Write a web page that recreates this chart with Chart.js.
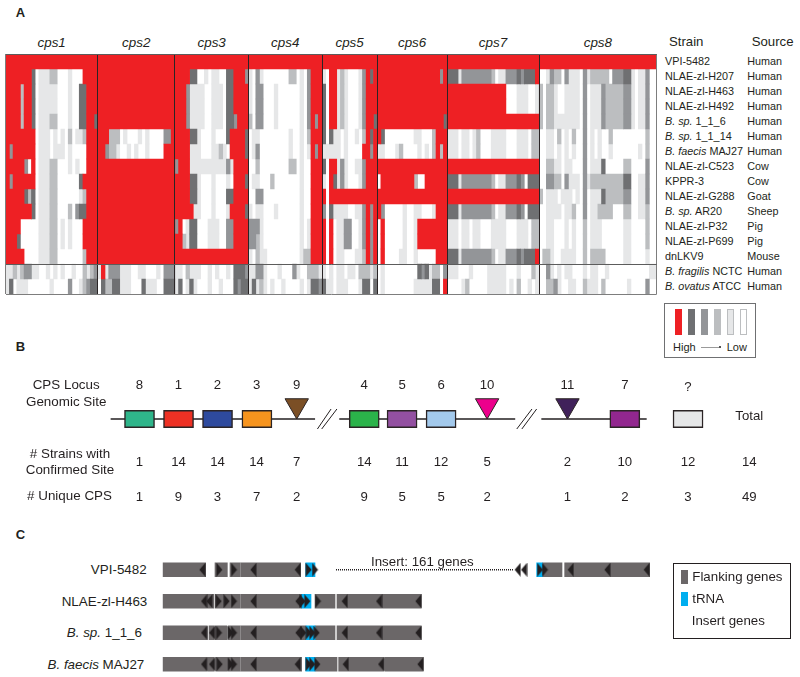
<!DOCTYPE html>
<html>
<head>
<meta charset="utf-8">
<script src="https://cdn.jsdelivr.net/npm/chart.js@4"></script>
<style>
	html, body { margin: 0; padding: 0; background: #fff; }
	#page { position: relative; width: 800px; height: 677px; overflow: hidden; font-family: "Liberation Sans", Arial, sans-serif; color: #231f20; }
	#page canvas { position: absolute; }
	.t { position: absolute; white-space: nowrap; line-height: 1; }
	.box { position: absolute; box-sizing: border-box; }
</style>
</head>
<body>
<div id="page">
	<canvas id="heatChart" width="654" height="243" style="left:4px;top:52px"></canvas>
	<canvas id="siteChart" width="700" height="60" style="left:100px;top:389px"></canvas>
	<canvas id="trackChart" width="502" height="126" style="left:162px;top:554px"></canvas>
</div>
<script>
// panel A
const strains = [ 'VPI-5482', 'NLAE-zl-H207', 'NLAE-zl-H463', 'NLAE-zl-H492', '<i>B. sp.</i> 1_1_6', '<i>B. sp.</i> 1_1_14', '<i>B. faecis</i> MAJ27', 'NLAE-zl-C523', 'KPPR-3', 'NLAE-zl-G288', '<i>B. sp.</i> AR20', 'NLAE-zl-P32', 'NLAE-zl-P699', 'dnLKV9', '<i>B. fragilis</i> NCTC', '<i>B. ovatus</i> ATCC' ];
const sources = [ 'Human', 'Human', 'Human', 'Human', 'Human', 'Human', 'Human', 'Cow', 'Cow', 'Goat', 'Sheep', 'Pig', 'Pig', 'Mouse', 'Human', 'Human' ];
const loci = [ 'cps1', 'cps2', 'cps3', 'cps4', 'cps5', 'cps6', 'cps7', 'cps8' ];

// expression level per gene, 5 = high (red) ... 0 = low (white), one string per strain
const cps1 = [
	'55555 55555 55555 55555 55555',
	'5555555 4 0 111 22 000 1 000 5555',
	'5555 2 55 4 0 111 11 000 1 00 44 555',
	'5555 2 55 4 0 111 11 000 1 00 44 555',
	'5555 2 55 4 0 111 22 000 1 00 44 55 4',
	'55555555 0 111 0 1 0 1 0 2 0 11 2 555',
	'5 3 555555 0 111 0 11 1 0 1 000 0 555',
	'55555 3 0 5 0 111 22 000 1 0 1 00 555',
	'5 3 555555 0 111 22 000000 4 5555',
	'55555 4 2 4 0 111 22 000000 1 2 555',
	'5555555 4 0 111 22 000 2 0 3 44 555',
	'5555 00000 111 22 0 1 0 1 000 5555',
	'555 4 00000 111 22 0 1 0 1 000 5555',
	'55555 0000 111 22 0000000 2 555',
	'11 2 1 2 33 1 1 00 1 0 1 0 1 0 0 1 0 0 2 1 2 3',
	'1 4 0 1 1 1 0 0 0 0 0 0 1 0 0 0 0 3 0 0 1 2 3 4 4'
];
const cps2 = [
	'55555 55555 55555 55555 5',
	'55555 55555 55555 55555 5',
	'55555 55555 55555 55555 5',
	'55555 55555 55555 55555 5',
	'55555 55555 55555 55555 5',
	'555 222 0 1 000 1 0 1 0000 33 5',
	'55 3 22 1 00 1 0 1 00 1 0000 555',
	'55555 55555 55555 55555 5',
	'55555 55555 55555 55555 5',
	'55555 55555 55555 55555 5',
	'55555 55555 55555 55555 5',
	'55555 55555 55555 55555 5',
	'55555 55555 55555 55555 5',
	'55555 55555 55555 55555 5',
	'1 5 1 333 111 00 11 000 1 0 333',
	'0 4 2 2 4 4 1 1 1 0 0 0 4 1 1 1 0 0 4 4 4'
];
const cps3 = [
	'55555 55555 55555 55555',
	'5555 44 00 1 0 1 1 0 0 44 555 3',
	'555 3 111 1 0 0 1 1 1 0 44 5555',
	'555 3 111 1 0 0 1 1 1 0 44 5555',
	'555 3 111 1 0 0 1 1 1 0 44 3 555',
	'5555 44 1 000 1 000 4 5555 4',
	'5555 111 000 11 2 1 0 5555 4',
	'3 555 1111111111 3 1 5555',
	'5555 44 1 000 1 000 1 0 555 4',
	'5555 44 1 000 1 000 44 5555',
	'55555 11 000 1 000 1 5555 4',
	'3 5 0 1 44 000 1 11 00 33 5555',
	'55 2 1 44 000 1 11 00 33 5555',
	'55555 55555 55555 55555',
	'1 1 0 2 1 1 1 0 0 1 0 1 0 0 1 0 4 4 4 3',
	'1 4 0 1 4 1 0 0 0 1 0 0 1 0 0 0 4 3 4 4'
];
const cps4 = [
	'55555 55555 55555 55555',
	'1 0 3 1 0000000 22 0 1 0 3 555',
	'1 0 33 000 1 000000 1 0 3 555',
	'1 0 33 000 1 000000 1 0 3 555',
	'2 0 33 000 1 000000 1 0 3 5 3 5',
	'0 11 00000000 1 00 1 0 2 555',
	'0 1 3 00000000 1 00 1 0 1 5 3 5',
	'0 0 2 00000000 22 0 1 0 0 555',
	'0 1 1 000 2 0000000 1 00 555',
	'0 0 33 0000000000 1 00 555',
	'1 0 1 1 000 1 000000 1 0 0 555',
	'333 1 0000000000 1 0 1 555',
	'332 1 0000000000 1 0 1 555',
	'1 0 2 1 1 000000000 1 22 555',
	'1 1 3 3 1 0 0 0 1 0 0 0 3 1 0 0 2 2 2 1',
	'1 4 1 2 1 0 1 0 0 1 0 0 0 0 1 0 1 4 4 3'
];
const cps5 = [
	'55555 55555 55555',
	'1 0 55 1 2 1 000 1 3 5 4 5',
	'4 0 5 5 1 2 1 000 1 3 555',
	'4 0 5 5 1 2 1 000 1 3 555',
	'4 0 55 1 2 1 000 1 3 55 4',
	'4 0 4 1 1 0 1 0 0 1 0 2 5 4 5',
	'1 1 1 1 1 0 1 0 0 0 0 5 5 3 5',
	'4 0 5 5 1 3 1 0 0 1 1 3 555',
	'1 0 5 4 1 3 1 0 0 0 1 3 555',
	'5 0 55555 55555 555',
	'3 0 4 1 1 1 1 0 0 1 1 3 5 3 5',
	'5 0 5 0 1 1 3 3 0 0 1 3 5 3 5',
	'5 0 5 0 1 1 3 3 0 0 1 3 5 3 5',
	'5 0 5 0 1 1 0 0 0 1 1 2 5 3 5',
	'1 0 1 0 1 1 0 1 1 0 2 2 2 1 2',
	'4 1 1 0 1 1 1 0 0 0 1 4 4 0 4'
];
const cps6 = [
	'55555 55555 55555 5555',
	'55555 55555 55555 55 3 5',
	'55555 55555 55555 5555',
	'55555 55555 55555 5555',
	'55555 55555 55555 555 4',
	'5 4 00000000 11 000 2 555',
	'1 1 0 0 0 1 2 0 0 0 0 1 0 1 0 2 5 2 5',
	'55555 55555 55555 5555',
	'0 555555555 2 00 555555',
	'55555 55555 55555 5555',
	'5 3 00000 1 00 11 000 1 555',
	'0 5 00000 1 00 1 55555555',
	'0 5 00000 1 00 1 55555555',
	'0 5 0000 1 1 00 1 00000 555',
	'0 1 0 0 0 0 0 0 0 0 0 4 3 4 1 2 2 0 3',
	'0 1 0 0 0 0 0 0 0 0 1 1 1 1 1 4 4 0 5'
];
const cps7 = [
	'55555 55555 55555 55555 55555',
	'444 1 33333333 2 0 11 333 4 3 444 5',
	'55555 55555 55555 5 000 111 00 1',
	'55555 55555 55555 5 000 111 00 1',
	'55555 55555 55555 55555 55555',
	'111 0 11 0 1 2 000 1111 000 111 0 22',
	'111 0 11 0 1 2 000 1111 000 111 0 22',
	'55555 55555 55555 55555 55555',
	'444 1 33333333 2 0 11 333 4 3 0 444',
	'55555 55555 55555 55555 55555',
	'444 1 33333333 2 0 11 333 4 3 0 444',
	'111 0 11 0 1 1 000 1111 000 111 0 22',
	'111 0 11 0 1 1 000 1111 000 111 0 22',
	'444 1 33333333 2 0 11 333 4 3 444 5',
	'1 1 1 0 0 0 1 0 0 0 0 1 1 1 1 1 0 0 0 1 0 0 0 2 1',
	'0 0 0 0 1 2 0 0 0 0 0 1 1 1 1 1 0 1 0 2 0 0 1 0 1'
];
const cps8 = [
	'55555 55555 55555 55555 55555 55555 55',
	'0 0 1 3 2 2 0 3 1 1 1 0 3 1 2 2 2 2 2 0 3 3 3 4 4 1 0 1 1 3 0 0',
	'2 0 2 2 1 0 0 1 1 1 1 0 3 0 1 1 1 3 2 2 2 2 2 3 3 1 0 1 1 3 0 0',
	'2 0 2 2 1 0 0 1 1 1 1 0 3 0 1 1 1 3 2 2 2 2 2 3 3 1 0 1 1 3 0 0',
	'2 0 2 2 1 1 1 1 1 1 1 0 3 0 1 1 1 3 2 2 2 2 2 3 3 1 0 1 1 3 0 0',
	'0 0 1 1 0 2 0 1 0 2 0 0 3 0 1 0 1 0 0 2 0 0 0 0 0 0 0 0 0 2 0 0',
	'0 0 1 1 0 1 0 1 0 1 0 0 3 0 1 0 1 0 0 1 0 0 0 0 0 0 0 1 0 2 0 0',
	'0 0 2 2 1 1 0 1 1 0 0 0 3 0 1 1 1 4 0 0 0 0 0 2 2 0 0 0 0 3 0 0',
	'0 0 3 3 2 2 0 3 1 1 1 0 3 1 2 2 2 2 2 2 2 2 2 4 4 0 0 1 1 3 0 0',
	'2 0 1 1 1 0 1 1 1 0 1 0 3 0 1 1 1 4 2 2 2 2 2 3 3 0 0 1 1 3 0 0',
	'0 0 1 1 1 1 0 1 1 2 0 0 3 0 1 1 2 2 2 2 0 0 0 2 2 0 0 1 1 2 0 0',
	'0 0 1 1 0 0 0 1 0 1 0 0 2 0 1 1 1 0 0 0 0 0 0 1 1 0 0 0 0 2 0 0',
	'0 0 1 1 0 0 0 1 0 1 0 0 2 0 1 1 1 0 0 0 0 0 0 1 1 0 0 0 0 2 0 0',
	'0 2 2 1 0 0 1 1 1 1 0 0 2 0 2 2 2 2 0 0 0 0 0 1 1 0 0 0 0 1 0 0',
	'0 0 3 1 0 1 0 1 1 0 0 0 1 0 1 1 0 0 1 0 0 0 0 0 0 0 0 0 0 0 1 1',
	'0 0 2 2 3 1 0 0 1 1 0 0 2 1 1 1 0 2 0 0 0 0 0 0 1 0 0 0 0 3 0 0'
];
const locusGenes = [ cps1, cps2, cps3, cps4, cps5, cps6, cps7, cps8 ];
const locusSizes = [ 25, 21, 20, 20, 15, 19, 25, 32 ];
const levels = [ 5, 4, 3, 2, 1, 0 ];
const levelColors = { 5: '#ee2024', 4: '#6f7072', 3: '#939598', 2: '#bcbec0', 1: '#e6e7e8', 0: '#ffffff' };

// panel B, x is position along the genome in locus spacings
const boxSites = [ '8', '1', '2', '3', '4', '5', '6', '7', '?' ];
const boxPos = [ 0, 1, 2, 3.01, 5.76, 6.73, 7.73, 12.44, 14.06 ];
const boxColors = [ '#2fb58a', '#ee3124', '#2e4a9e', '#f7941e', '#2bb34a', '#9350a1', '#a3c9ec', '#92278f', '#e6e7e8' ];
const insertSites = [ '9', '10', '11' ];
const insertPos = [ 4.03, 8.91, 10.97 ];
const insertColors = [ '#7b4f25', '#ec008c', '#40215a' ];
const backbone = [ [ -0.74, 4.5 ], [ 5.12, 9.63 ], [ 10.3, 13.0 ] ];
const breaks = [ [ 4.56, 4.91 ], [ 4.67, 5.06 ], [ 9.67, 10.06 ], [ 9.8, 10.18 ] ];
const siteOrder = [ '8', '1', '2', '3', '9', '4', '5', '6', '10', '11', '7', '?', 'Total' ];
const sitePos = [ 0, 1, 2, 3, 4.03, 5.76, 6.73, 7.73, 8.91, 10.97, 12.44, 14.06, 15.63 ];
const strainsWithSite = [ 1, 14, 14, 14, 7, 14, 11, 12, 5, 2, 10, 12, 14 ];
const uniqueCps = [ 1, 9, 3, 7, 2, 9, 5, 5, 2, 1, 2, 3, 49 ];

// panel C, x in kb-like units from the start of each track
const tracks = [ 'VPI-5482', 'NLAE-zl-H463', 'B. sp. 1_1_6', 'B. faecis MAJ27' ];
const trackLabels = [ 'VPI-5482', 'NLAE-zl-H463', '<i>B. sp.</i> 1_1_6', '<i>B. faecis</i> MAJ27' ];
const flanking = [
	[ [ 0, 12.9 ], [ 15.7, 19.4 ], [ 20.2, 23.3 ], [ 23.5, 41.4 ], [ 113.9, 119.8 ], [ 120.6, 146.1 ] ],
	[ [ 0, 15.3 ], [ 15.7, 23.3 ], [ 23.5, 41.7 ], [ 45.7, 51.7 ], [ 52.3, 77.6 ] ],
	[ [ 0, 13.4 ], [ 13.9, 15.5 ], [ 15.7, 19.2 ], [ 19.6, 23.3 ], [ 23.5, 43 ], [ 45.7, 51.7 ], [ 52.3, 77.6 ] ],
	[ [ 0, 13.4 ], [ 13.6, 15.5 ], [ 15.9, 19.4 ], [ 19.6, 23.3 ], [ 23.5, 41.7 ], [ 45.7, 52.3 ], [ 52.8, 66.4 ], [ 66.7, 78.2 ] ]
];
const trna = [
	[ [ 42.9, 45.7 ], [ 112.2, 113.9 ] ],
	[ [ 41.7, 44.5 ] ],
	[ [ 43, 45.7 ] ],
	[ [ 42.9, 45.7 ] ]
];
const leftArrows = [
	[ 11.9, 27.2, 40.5, 106.5, 108.4, 122.4, 133.4, 145.2 ],
	[ 12.4, 14, 27.2, 40.7, 54.6, 64.9, 76.7 ],
	[ 12.4, 14.8, 27.2, 40.7, 54.6, 64.9, 76.7 ],
	[ 12.4, 14.8, 27.2, 40.5, 54.9, 65.5, 77.3 ]
];
const rightArrows = [
	[ 17, 21.4, 43.8, 45.7, 113.2, 114.7 ],
	[ 16.8, 19.2, 21.4, 42, 43.4, 46.6 ],
	[ 16.9, 20.4, 21.4, 42.2, 43.8, 44.9, 46.2 ],
	[ 17.1, 20.4, 21.4, 43.8, 44.9, 46.4 ]
];
const insertSpan = [ 52, 105.2 ];

Chart.defaults.animation = false;
Chart.defaults.responsive = false;
Chart.defaults.events = [];
Chart.defaults.layout.autoPadding = false;
Chart.defaults.plugins.legend.display = false;
Chart.defaults.plugins.tooltip.enabled = false;
Chart.defaults.datasets.bar.categoryPercentage = 1;
Chart.defaults.datasets.bar.barPercentage = 1;

const page = document.getElementById('page');
const addText = function(html, x, y, size, align, extra) {
	const el = document.createElement('div');
	const shift = align === 'center' ? '-50%' : align === 'right' ? '-100%' : '0';
	el.className = 't';
	el.innerHTML = html;
	el.style.cssText = 'left:' + x + 'px;top:' + y + 'px;font-size:' + size + 'px;transform:translate(' + shift + ',-50%);' + (extra || '');
	page.appendChild(el);
};
const addBox = function(x, y, w, h, css) {
	const el = document.createElement('div');
	el.className = 'box';
	el.style.cssText = 'left:' + x + 'px;top:' + y + 'px;width:' + w + 'px;height:' + h + 'px;' + css;
	page.appendChild(el);
};

// heatmap, runs of equal level become one floating bar
const boundaries = [ 0 ];
locusSizes.forEach((n, i) => boundaries.push(boundaries[i] + n));
const heatData = {};
levels.forEach((l) => (heatData[l] = []));
strains.forEach((name, row) => {
	locusGenes.forEach((genes, li) => {
		const cells = genes[row].replace(/ /g, '');
		let start = 0;
		for (let c = 1; c <= locusSizes[li]; c++) {
			const cur = cells[Math.min(c - 1, cells.length - 1)];
			const next = c < locusSizes[li] ? cells[Math.min(c, cells.length - 1)] : null;
			if (cur !== next) {
				heatData[cur].push({ x: [ boundaries[li] + start, boundaries[li] + c ], y: name });
				start = c;
			}
		}
	});
});

const heatChart = new Chart(document.getElementById('heatChart'), {
	type: 'bar',
	data: {
		labels: strains,
		datasets: levels.map((l) => ({
			data: heatData[l],
			backgroundColor: levelColors[l],
			grouped: false
		}))
	},
	options: {
		indexAxis: 'y',
		layout: { padding: { left: 1.7, top: 2, right: 1.3, bottom: 1 } },
		scales: {
			x: {
				type: 'linear',
				offset: false,
				min: 0,
				max: boundaries[boundaries.length - 1],
				afterBuildTicks: (scale) => {
					scale.ticks = boundaries.map((b) => ({ value: b }));
				},
				ticks: { display: false, autoSkip: false },
				border: { display: false },
				grid: {
					z: 1,
					drawTicks: false,
					tickLength: 0,
					lineWidth: 1,
					color: (ctx) => (ctx.index === 0 || ctx.index === locusSizes.length ? '#7d7d7d' : '#2a2526')
				}
			},
			y: {
				type: 'category',
				offset: true,
				ticks: { display: false, autoSkip: false },
				border: { display: false },
				grid: {
					z: 1,
					offset: true,
					drawTicks: false,
					tickLength: 0,
					lineWidth: 1,
					color: (ctx) => {
						if (ctx.index === 14) return '#5c5c5c';
						if (ctx.index === undefined) return '#7d7d7d';
						if (ctx.index === 0) return '#5c5c5c';
						return 'rgba(0,0,0,0)';
					}
				}
			}
		}
	}
});

const hx = heatChart.scales.x;
const hy = heatChart.scales.y;
const textColumns = { strain: 665, source: 747.3 };
loci.forEach((name, i) => {
	const mid = (hx.getPixelForValue(boundaries[i]) + hx.getPixelForValue(boundaries[i + 1])) / 2;
	addText(name, mid + 4, 42.7, 13.4, 'center', 'font-style:italic;');
});
strains.forEach((name, i) => {
	const y = hy.getPixelForValue(i) + 52 - 0.6;
	addText(name, textColumns.strain, y, 10.8, 'left');
	addText(sources[i], textColumns.source, y, 10.8, 'left');
});
addText('Strain', 669, 42, 13.2, 'left');
addText('Source', 751.7, 42, 13.2, 'left');
addText('A', 15.7, 11.7, 13, 'left', 'font-weight:bold;');
addText('B', 15.7, 346, 13, 'left', 'font-weight:bold;');
addText('C', 15.7, 534, 13, 'left', 'font-weight:bold;');

// level key
addBox(664, 302.5, 92, 55, 'border:1px solid #6f7072;');
levels.forEach((l, i) => {
	const outline = l < 3 ? 'border:1px solid #bcbec0;' : '';
	addBox(675 + i * 13, 308.7, 7.4, 26.3, 'background:' + levelColors[l] + ';' + outline);
});
addText('High', 673, 347, 11, 'left');
addText('Low', 726.7, 347, 11, 'left');
addBox(701, 347, 19, 1, 'background:#9a9a9a;');
addBox(719, 346.3, 2, 2, 'background:#555;');

// locus map
const siteChart = new Chart(document.getElementById('siteChart'), {
	type: 'bar',
	data: {
		datasets: [
			{
				type: 'line',
				data: insertPos.map((p) => ({ x: p, y: 1.35 })),
				showLine: false,
				pointStyle: 'triangle',
				rotation: 180,
				radius: 13.5,
				backgroundColor: insertColors,
				borderColor: '#2b2425',
				borderWidth: 1,
				order: 0
			},
			{
				indexAxis: 'y',
				data: boxPos.map((p) => ({ x: [ p - 0.385, p + 0.385 ], y: 0 })),
				backgroundColor: boxColors,
				borderColor: '#2b2425',
				borderWidth: 1.5,
				borderSkipped: false,
				barThickness: 17.5,
				order: 1
			}
		]
			.concat(backbone.map((seg) => ({
				type: 'line',
				data: [ { x: seg[0], y: 0 }, { x: seg[1], y: 0 } ],
				borderColor: '#231f20',
				borderWidth: 1.3,
				pointRadius: 0,
				order: 2
			})))
			.concat(breaks.map((seg) => ({
				type: 'line',
				data: [ { x: seg[0], y: -1 }, { x: seg[1], y: 1 } ],
				borderColor: '#231f20',
				borderWidth: 1,
				pointRadius: 0,
				order: 2
			})))
	},
	options: {
		layout: { padding: { left: 0.5 } },
		scales: {
			x: { type: 'linear', offset: false, min: -1, max: 16.93, display: false },
			y: { type: 'linear', offset: false, min: -3, max: 3, display: false }
		}
	}
});

const sx = siteChart.scales.x;
siteOrder.forEach((site, i) => {
	const x = sx.getPixelForValue(sitePos[i]) + 100;
	if (site === 'Total') {
		addText(site, x, 416, 13.2, 'center');
	} else {
		addText(site, x, site === '?' ? 387 : 385.3, 13.2, 'center');
	}
	addText(String(strainsWithSite[i]), x, 461.7, 13.2, 'center');
	addText(String(uniqueCps[i]), x, 496.7, 13.2, 'center');
});
addText('CPS Locus', 66.2, 385.3, 13.4, 'center');
addText('Genomic Site', 66.2, 401.7, 13.4, 'center');
addText('# Strains with', 70, 453.7, 13.4, 'center');
addText('Confirmed Site', 70, 469.7, 13.4, 'center');
addText('# Unique CPS', 69.5, 496.4, 13.4, 'center');

// gene tracks
const makeArrow = function(dir) {
	const c = document.createElement('canvas');
	c.width = 7;
	c.height = 14;
	const g = c.getContext('2d');
	g.fillStyle = '#231f20';
	g.beginPath();
	if (dir < 0) {
		g.moveTo(0.5, 7);
		g.lineTo(6.5, 0);
		g.lineTo(6.5, 14);
	} else {
		g.moveTo(6.5, 7);
		g.lineTo(0.5, 0);
		g.lineTo(0.5, 14);
	}
	g.closePath();
	g.fill();
	return c;
};
const spanData = (lists) => lists.flatMap((spans, i) => spans.map((s) => ({ x: s, y: tracks[i] })));
const pointData = (lists) => lists.flatMap((xs, i) => xs.map((x) => ({ x: x, y: tracks[i] })));

const trackChart = new Chart(document.getElementById('trackChart'), {
	type: 'bar',
	data: {
		labels: tracks,
		datasets: [
			{ type: 'line', data: pointData(leftArrows), showLine: false, pointStyle: makeArrow(-1), order: 0 },
			{ type: 'line', data: pointData(rightArrows), showLine: false, pointStyle: makeArrow(1), order: 0 },
			{ indexAxis: 'y', data: spanData(flanking), backgroundColor: '#6b6768', barThickness: 14, grouped: false, order: 2 },
			{ indexAxis: 'y', data: spanData(trna), backgroundColor: '#00aeef', barThickness: 14, grouped: false, order: 1 },
			{
				type: 'line',
				data: insertSpan.map((x) => ({ x: x, y: tracks[0] })),
				borderColor: '#231f20',
				borderWidth: 1.5,
				borderDash: [ 1, 1 ],
				pointRadius: 0,
				order: 1
			}
		]
	},
	options: {
		layout: { padding: { left: 0.67, right: 1.33 } },
		scales: {
			x: { type: 'linear', offset: false, min: 0, max: 150, display: false },
			y: { type: 'category', offset: true, display: false }
		}
	}
});

const ty = trackChart.scales.y;
const labelRight = [ 146.7, 147.3, 142, 144.3 ];
trackLabels.forEach((name, i) => {
	addText(name, labelRight[i], ty.getPixelForValue(i) + 554 + (i === 0 ? 0 : 0.5), 13.4, 'right');
});
addText('Insert: 161 genes', 371, 561.7, 13.3, 'left');

// panel C key
addBox(672.5, 562.5, 118, 76, 'border:1.5px solid #231f20;');
addBox(681, 570, 7.3, 14, 'background:#6b6768;');
addBox(681, 592.3, 7.3, 14, 'background:#00aeef;');
addText('Flanking genes', 692.3, 577.3, 13.3, 'left');
addText('tRNA', 692.3, 599.3, 13.3, 'left');
addText('Insert genes', 691.7, 621, 13.3, 'left');
</script>
</body>
</html>
